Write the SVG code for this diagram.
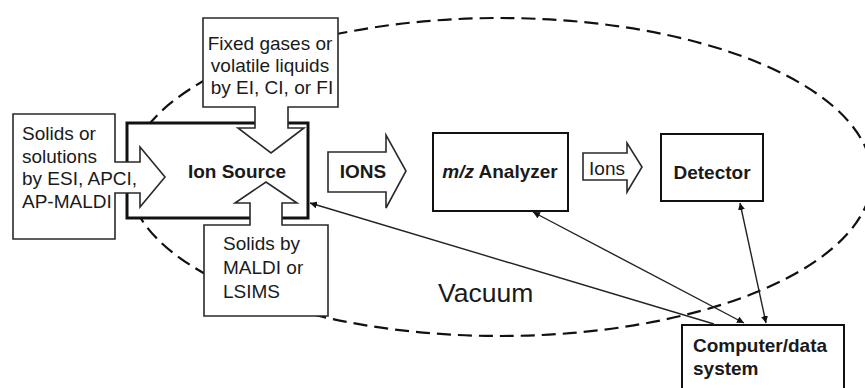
<svg xmlns="http://www.w3.org/2000/svg" width="865" height="388" viewBox="0 0 865 388">
<style>
text{font-family:"Liberation Sans",Arial,sans-serif;fill:#1a1a1a;font-size:19px}
.b{font-weight:bold}
.c{text-anchor:middle}
.inp{fill:#fff;stroke:#2a2a2a;stroke-width:1.6;stroke-linejoin:miter}
.box{fill:#fff;stroke:#111;stroke-width:2}
.conn{stroke:#222;stroke-width:1.4;fill:none}
</style>
<defs>
<marker id="ah" viewBox="0 0 10 10" refX="10" refY="5" markerWidth="7" markerHeight="7" markerUnits="userSpaceOnUse" orient="auto-start-reverse">
<path d="M0,0 L10,5 L0,10 Z" fill="#111"/>
</marker>
</defs>
<rect width="865" height="388" fill="#fff"/>
<ellipse id="vacuum-boundary" cx="500" cy="177" rx="372" ry="159" fill="none" stroke="#111" stroke-width="2.2" stroke-dasharray="14 7"/>
<g id="ion-source">
<rect x="127" y="123" width="181" height="95" fill="#fff" stroke="#111" stroke-width="3"/>
<text class="b c" x="237" y="178">Ion Source</text>
</g>
<g id="input-esi">
<path class="inp" d="M13,114 H115 V162 H140 V147 L165,177 L140,207 V193 H115 V239 H13 Z"/>
<text x="22" y="140">Solids or</text>
<text x="22" y="163">solutions</text>
<text x="22" y="185">by ESI, APCI,</text>
<text x="22" y="208">AP-MALDI</text>
</g>
<g id="input-ei">
<path class="inp" d="M203,18 H338 V107 H288 V128 H304 L271,153 L238,128 H255 V107 H203 Z"/>
<text class="c" x="270" y="50">Fixed gases or</text>
<text class="c" x="270" y="72">volatile liquids</text>
<text class="c" x="272" y="94">by EI, CI, or FI</text>
</g>
<g id="input-maldi">
<path class="inp" d="M204,225 H250 V203 H235 L266,182 L297,203 H282 V225 H328 V316 H204 Z"/>
<text x="223" y="250">Solids by</text>
<text x="223" y="274">MALDI or</text>
<text x="223" y="298">LSIMS</text>
</g>
<g id="ions-arrow">
<path class="inp" d="M328,152 H386 V135 L406,171 L386,208 V192 H328 Z"/>
<text class="b c" x="363" y="178">IONS</text>
</g>
<g id="analyzer">
<rect class="box" x="433" y="133" width="135" height="78"/>
<text class="b c" x="500" y="178"><tspan font-style="italic">m/z</tspan> Analyzer</text>
</g>
<g id="ions-arrow2">
<path class="inp" d="M583,153 H627 V143 L642,167 L627,192 V180 H583 Z"/>
<text class="c" x="607" y="175">Ions</text>
</g>
<g id="detector">
<rect class="box" x="661" y="134" width="102" height="67"/>
<text class="b c" x="712" y="179">Detector</text>
</g>
<g id="computer">
<rect class="box" x="682" y="325" width="162" height="80"/>
<text class="b" x="693" y="352">Computer/data</text>
<text class="b" x="693" y="375">system</text>
</g>
<g id="vacuum-label">
<text x="438" y="302" style="font-size:26.5px">Vacuum</text>
</g>
<g id="connectors">
<line class="conn" x1="714" y1="324" x2="310" y2="203" marker-end="url(#ah)"/>
<line class="conn" x1="533" y1="212" x2="744" y2="323" marker-start="url(#ah)" marker-end="url(#ah)"/>
<line class="conn" x1="740" y1="203" x2="766" y2="323" marker-start="url(#ah)" marker-end="url(#ah)"/>
</g>
</svg>
